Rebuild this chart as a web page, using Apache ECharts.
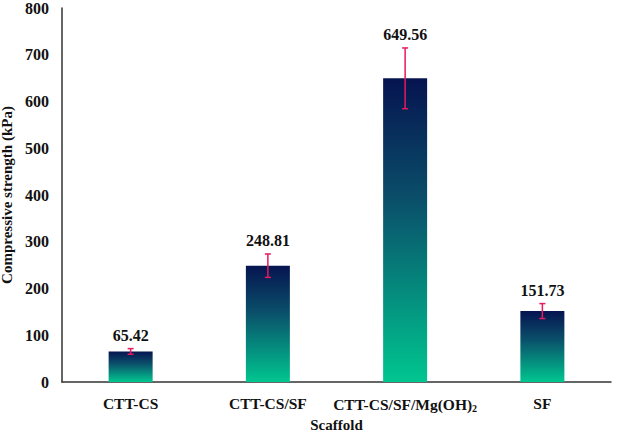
<!DOCTYPE html>
<html>
<head>
<meta charset="utf-8">
<script src="https://cdn.jsdelivr.net/npm/echarts@6/dist/echarts.min.js"></script>
<style>html,body{margin:0;padding:0;background:#fff}#c{width:644px;height:437px}</style>
</head>
<body>
<div id="c"></div>
<script>
const categories = ['CTT-CS', 'CTT-CS/SF', 'CTT-CS/SF/Mg(OH)2', 'SF'];
const values = [65.42, 248.81, 649.56, 151.73];
const errors = [6, 25, 65, 16];
const yTicks = [0, 100, 200, 300, 400, 500, 600, 700, 800];

const font = 'Liberation Serif';
const chart = echarts.init(document.getElementById('c'), null, {renderer: 'svg'});
chart.setOption({
  animation: false,
  grid: {left: 62, right: 33, top: 8, bottom: 55, outerBoundsMode: 'none', containLabel: false},
  xAxis: {
    type: 'category',
    data: categories,
    axisLine: {lineStyle: {color: '#333', width: 1.5}},
    axisTick: {show: false},
    name: 'Scaffold',
    nameLocation: 'middle',
    nameGap: 32,
    nameTextStyle: {fontFamily: font, fontWeight: 'bold', fontSize: 15, color: '#111'},
    axisLabel: {
      interval: 0,
      margin: 13,
      formatter: function (v) {
        if (v.indexOf('Mg(OH)2') >= 0) return '{a|' + v.slice(0, -1) + '}{s|2}';
        return '{a|' + v + '}';
      },
      rich: {
        a: {fontFamily: font, fontWeight: 'bold', fontSize: 15.5, color: '#111'},
        s: {fontFamily: font, fontWeight: 'bold', fontSize: 10, color: '#111', padding: [8, 0, 0, 0]}
      }
    }
  },
  yAxis: {
    type: 'value',
    min: 0, max: 800, interval: 100,
    splitLine: {show: false},
    axisLine: {show: true, lineStyle: {color: '#333', width: 1.5}},
    axisTick: {show: false},
    axisLabel: {fontFamily: font, fontWeight: 'bold', fontSize: 16, color: '#111', margin: 13},
    name: 'Compressive strength (kPa)',
    nameLocation: 'middle',
    nameGap: 41,
    nameTextStyle: {fontFamily: font, fontWeight: 'bold', fontSize: 15, color: '#111'}
  },
  series: [
    {
      type: 'bar',
      data: values,
      barWidth: 44,
      itemStyle: {
        color: new echarts.graphic.LinearGradient(0, 0, 0, 1, [
          {offset: 0, color: '#061450'},
          {offset: 0.4, color: '#0a4f6a'},
          {offset: 1, color: '#00c690'}
        ])
      }
    },
    {
      type: 'custom',
      data: values.map((v, i) => [i, v, errors[i]]),
      renderItem: function (params, api) {
        const i = api.value(0), v = api.value(1), e = api.value(2);
        const top = api.coord([i, v + e]);
        const bot = api.coord([i, v - e]);
        const x = top[0];
        const hw = 3;
        const st = {stroke: '#e8195c', lineWidth: 1.5};
        return {
          type: 'group',
          children: [
            {type: 'line', shape: {x1: x, y1: top[1], x2: x, y2: bot[1]}, style: st},
            {type: 'line', shape: {x1: x - hw, y1: top[1], x2: x + hw, y2: top[1]}, style: st},
            {type: 'line', shape: {x1: x - hw, y1: bot[1], x2: x + hw, y2: bot[1]}, style: st},
            {type: 'text', x: x, y: top[1] - 5, style: {
              text: v.toFixed(2), fill: '#111', font: 'bold 16px "Liberation Serif"',
              textAlign: 'center', textVerticalAlign: 'bottom'
            }}
          ]
        };
      },
      z: 5
    }
  ]
});
</script>
</body>
</html>
